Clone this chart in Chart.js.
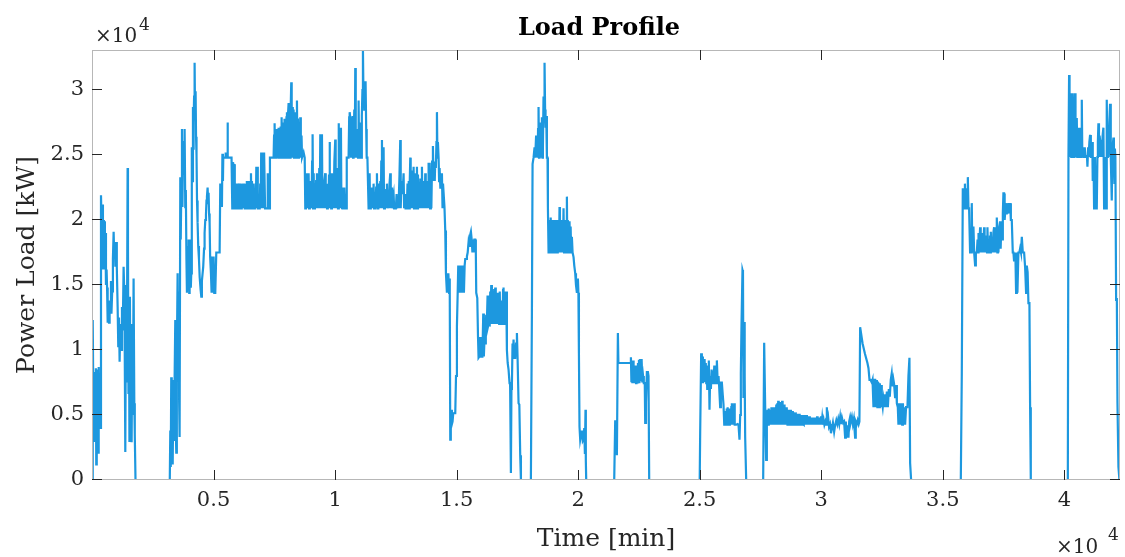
<!DOCTYPE html>
<html>
<head>
<meta charset="utf-8">
<title>Load Profile</title>
<script src="https://cdn.jsdelivr.net/npm/chart.js@4.4.1/dist/chart.umd.min.js"></script>
<style>
  html, body { margin: 0; padding: 0; background: #fff; }
  #wrap { width: 1125px; height: 557px; }
</style>
</head>
<body>
<div id="wrap"><canvas id="loadProfile" width="1125" height="557"></canvas></div>
<script>
// load readings, [time in min, power in kW], split by working period
var startUp = [[0,0],[20,0],[40,12300],[60,5000],[80,8300],[100,3000],[120,7800],[140,4200],[160,8600],[175,1200],[195,7900],[215,3300],[235,8500],[255,2100],[275,8700],[300,5000],[320,8200],[345,4000],[370,21900],[390,20000],[410,16200],[430,21200],[450,17000],[470,20000],[490,16200],[510,19900],[530,17500],[550,19000],[575,15000],[600,16200],[620,14800],[645,12100],[670,13600],[700,12100],[725,13800],[753,13300],[780,15300],[800,12800],[830,14500],[860,17000],[890,19100],[910,17500],[935,18300],[960,16400],[990,18300],[1020,16400],[1055,13300],[1080,10300],[1110,12500],[1136,9100],[1165,12000],[1195,10000],[1233,13300],[1265,11500],[1300,16400],[1335,14000],[1370,2150],[1400,15000],[1430,7500],[1465,24000],[1480,18000],[1500,6700],[1520,12800],[1540,3000],[1560,14100],[1585,4200],[1610,12000],[1630,2900],[1655,10500],[1680,5000],[1711,15500],[1740,5900],[1760,3500],[1790,0]];

var rampOne = [[3200,0],[3221,3800],[3240,1000],[3260,7900],[3280,2500],[3300,7700],[3320,1200],[3344,6500],[3370,3000],[3400,8000],[3426,12300],[3447,4000],[3467,2100],[3490,9500],[3522,15900],[3545,8000],[3565,14500],[3585,6000],[3604,3300],[3632,23300],[3650,18500],[3675,22500],[3701,27000],[3720,21000],[3745,25600],[3769,23500],[3790,26000],[3810,27000],[3837,21000],[3860,22300],[3885,17000],[3906,14400],[3930,18000],[3955,15500],[3975,18500],[4000,14400],[4016,16500],[4043,18500],[4065,14800],[4084,15900],[4100,21000],[4112,25600],[4135,23000],[4153,28700],[4170,25500],[4180,27500],[4200,29500],[4221,32100],[4240,28000],[4262,29900],[4280,26400],[4300,25000],[4320,21500],[4344,19800],[4370,18000],[4400,17000],[4430,15600],[4470,14600],[4496,14100],[4520,15300],[4550,15900],[4575,16400],[4610,17800],[4632,19000],[4660,20000],[4688,20400],[4710,21500],[4729,21800],[4756,22500],[4780,21300],[4797,22100],[4815,20500],[4838,19800],[4860,17200],[4893,15900],[4920,14400],[4950,17200],[4970,14400],[5003,17200],[5030,14400],[5071,14400],[5090,14400],[5113,17500],[5250,17500]];

var dayOne = [[5277,22800],[5300,21000],[5320,22500],[5345,21000],[5365,25100],[5387,23000],[5400,24800],[5480,24800],[5500,25200],[5520,24800],[5545,25200],[5560,24800],[5576,27500],[5590,24800],[5740,24800],[5771,20900],[5800,24450],[5815,24300],[5835,20900],[5850,24300],[5865,23600],[5882,20900],[5920,20900],[5935,22800],[5950,20900],[5990,20900],[6010,22800],[6025,20900],[6045,22800],[6060,20900],[6080,22800],[6100,20900],[6120,22800],[6140,20900],[6160,22800],[6180,20900],[6200,20900],[6220,22800],[6240,20900],[6264,22800],[6285,20900],[6310,20900],[6330,22500],[6350,20900],[6370,23000],[6390,20900],[6410,23000],[6430,20900],[6450,23000],[6470,20900],[6490,22500],[6510,20900],[6540,23600],[6560,20900],[6580,23000],[6600,20900],[6620,22800],[6647,20900],[6700,20900],[6720,22800],[6740,20900],[6760,24100],[6780,20900],[6800,24100],[6820,20900],[6900,20900],[6920,22800],[6940,20900],[6960,25200],[6980,20900],[7000,25200],[7020,22000],[7033,25200],[7050,20900],[7080,25200],[7101,25200],[7120,20900],[7200,20900],[7220,23600],[7240,20900],[7266,23600],[7290,20900],[7320,24800],
  [7334,24800],[7470,24800],[7490,26500],[7512,27450],[7530,24800],[7550,26800],[7570,24800],[7590,27000],[7610,24800],[7630,26300],[7650,24800],[7677,27100],[7695,24800],[7720,26300],[7740,24800],[7760,27200],[7780,24800],[7800,27900],[7820,24800],[7840,26800],[7860,24800],[7880,27500],[7900,24800],[7920,27800],[7940,24800],[7960,27000],[7980,24800],[8000,27900],[8020,28300],[8040,24800],[8060,28000],[8088,29000],[8105,24800],[8130,28800],[8150,24800],[8170,28300],[8197,30600],[8215,25000],[8240,28700],[8260,24800],[8293,28500],[8310,24800],[8340,27700],[8360,24800],[8380,28300],[8400,24800],[8431,29200],[8450,24800],[8470,27800],[8490,24800],[8510,26700],[8530,24800],[8568,27900],[8590,24800],[8620,26500],[8640,24800],[8680,24800],[8705,25200],[8750,24800]];

var dayTwo = [[8774,20900],[8800,23000],[8820,20900],[8850,23600],[8870,20900],[8890,22800],[8911,23600],[8930,20900],[8960,23000],[8980,20900],[9010,22500],[9030,20900],[9055,24500],[9075,26600],[9095,20900],[9120,23600],[9140,20900],[9170,22800],[9190,20900],[9220,23000],[9253,23600],[9270,20900],[9300,22500],[9320,20900],[9350,24000],[9370,20900],[9391,26600],[9410,20900],[9440,24000],[9460,26600],[9480,20900],[9510,22800],[9530,20900],[9560,23000],[9596,23600],[9615,20900],[9650,22500],[9670,20900],[9700,22800],[9720,20900],[9750,23500],[9773,26000],[9790,20900],[9820,22500],[9840,20900],[9870,23600],[9890,20900],[9920,22500],[9940,20900],[9970,24500],[10007,26200],[10025,20900],[10050,24000],[10070,20900],[10100,23600],[10120,20900],[10143,27450],[10160,24000],[10180,20900],[10210,24500],[10241,27100],[10260,21000],[10290,20900],[10320,22500],[10350,20900],[10378,22500],[10410,20900],[10450,20900],[10480,24800],[10520,24800],[10555,24800],[10580,27900],[10600,28300],[10624,27900],
  [10650,24800],[10670,27500],[10693,24800],[10720,28000],[10740,24800],[10761,26000],[10790,28500],[10810,24800],[10830,31700],[10850,24800],[10871,26500],[10890,24800],[10920,27000],[10945,24800],[10967,29200],[10990,24800],[11010,27500],[11036,26000],[11060,24800],[11077,24800],[11100,28000],[11125,30000],[11146,33080],[11165,30000],[11185,30600],[11200,28500],[11225,30600],[11255,30600],[11280,27000],[11300,24800],[11330,24800],[11378,20900],
  [11400,20900],[11420,23600],[11440,20900],[11470,21800],[11490,20900],[11520,22500],[11540,20900],[11565,22000],[11584,22800],[11605,20900],[11640,22000],[11660,20900],[11690,22500],[11722,23600],[11740,20900],[11780,20900],[11810,22800],[11830,20900],[11860,23000],[11880,20900],[11900,24500],[11928,26150],[11950,20900],[11975,24000],[11996,25600],[12015,20900],[12050,21800],[12070,20900],[12100,22300],[12133,22800],[12150,20900],[12180,22000],[12200,20900],[12240,22800],[12270,23600],[12290,20900],[12320,22500],[12340,20900],[12380,21700],[12407,22000],[12430,20900],[12500,20900],[12530,22000],[12550,20900],[12590,21800],[12610,20900],[12650,23500],[12681,26150],[12700,20900],[12730,23000],[12750,22000],[12790,22500],[12818,23600],[12840,20900],[12880,22000],[12900,20900],[12950,20900],[12980,22800],[13000,20900],[13030,23000],[13050,20900],[13070,22800],[13093,24800],[13110,20900],[13135,23800],[13155,20900],[13180,23500],[13200,20900],[13230,24100],[13250,20900],[13275,23600],[13295,20900],[13320,22800],[13345,20900],[13367,24100],[13385,20900],[13410,23500],[13430,20900],[13460,22800],[13480,20900],[13510,23200],[13530,20900],[13550,22800],[13573,24100],[13595,20900],[13620,22800],[13640,20900],[13670,23000],[13690,20900],[13709,23600],[13730,20900],[13760,22500],[13780,20900],[13800,23000],[13825,22000],[13847,24400],[13870,21000],[13890,24400],[13910,20900],[13940,23200],[13960,20900],[13990,24500],[14025,25700],[14050,23000],[14075,24500],[14100,23000],[14120,24500],[14145,24000],[14170,26000],[14190,28300],[14210,24800],[14230,26000],[14258,24800],[14280,23000],[14300,24000],[14330,22500],[14350,23600],[14370,22500],[14395,23600],[14420,20900],[14440,22800],[14464,22800],[14500,21000],[14532,19200]];

var dayThree = [[14560,15900],[14601,14400],[14620,15900],[14640,14400],[14660,15900],[14690,14400],[14710,15500],[14725,14400],[14738,3100],[14760,4000],[14779,5400],[14805,4300],[14833,4500],[14860,5100],[14900,5150],[14944,5150],[14975,8000],[15012,11800],[15045,14500],[15067,16500],[15080,14400],[15100,16300],[15120,14400],[15145,16500],[15165,14400],[15190,16400],[15210,14400],[15235,16500],[15255,14400],[15280,16500],[15300,14400],[15330,16500],[15355,17000],[15390,17000],[15423,17200],[15455,17500],[15491,18300],[15520,18000],[15550,18800],[15588,19100],[15620,18500],[15650,17500],[15680,18500],[15697,17500],[15730,18500],[15766,18500],[15790,17500],[15807,14400],[15850,14000],[15880,11000],[15903,9400],[15940,9500],[15971,11000],[16000,9400],[16030,10800],[16060,9400],[16095,12800],[16120,9500],[16150,11000],[16177,10500],[16200,12000],[16218,12700],[16240,11800],[16273,14200],[16290,11800],[16314,12000],[16340,14000],[16360,11800],[16383,14500],[16400,12500],[16424,15000],[16450,12000],[16470,14500],[16493,14200],[16520,12000],[16545,14700],[16565,12000],[16588,14800],[16610,12000],[16635,14400],[16657,12000],[16680,14300],[16700,12000],[16725,14400],[16750,12000],[16775,14500],[16794,12000],[16820,13800],[16840,12000],[16863,13500],[16890,12000],[16910,14600],[16930,14800],[16950,12000],[16975,14500],[17000,12000],[17020,12000],[17040,14500],[17068,10000],[17100,9000],[17136,8500],[17177,7450],[17200,7450],[17233,540],[17255,7000],[17275,7450],[17300,10500],[17316,9400],[17342,10800],[17370,9400],[17411,9400],[17445,10500],[17480,11300],[17507,9400],[17548,5900],[17580,5800],[17616,1900],[17645,0]];

var dayFour = [[18055,0],[18097,12900],[18124,24300],[18165,24800],[18205,25600],[18233,24800],[18270,26500],[18302,25600],[18330,24800],[18350,27000],[18370,28700],[18390,24800],[18411,25600],[18439,27500],[18460,24800],[18480,25000],[18508,27900],[18530,24800],[18549,25500],[18575,29500],[18600,28000],[18617,32100],[18640,28500],[18658,27100],[18686,28000],[18713,24800],[18740,24800],[18755,21000],[18782,17500],[18800,20000],[18815,17500],[18830,19800],[18850,17500],[18870,20200],[18890,17500],[18910,19500],[18930,17500],[18950,20000],[18970,17500],[18990,19800],[19010,17500],[19030,20000],[19050,17500],[19070,19600],[19090,17500],[19110,20000],[19130,17500],[19150,19800],[19170,17500],[19190,20000],[19210,17500],[19233,21000],[19250,17500],[19270,20000],[19290,17500],[19310,19800],[19330,17500],[19350,20000],[19370,17500],[19398,20900],[19420,17500],[19440,19800],[19460,17500],[19480,20000],[19500,17500],[19536,21800],[19555,17500],[19575,20000],[19595,17500],[19620,19500],[19645,19900],[19665,17500],[19690,19500],[19710,17500],[19741,18700],[19770,17500],[19810,17150],[19840,16500],[19879,15900],[19910,15000],[19948,14400],[19989,15500],[20010,14400],[20031,9750],[20055,4100],[20084,3100],[20120,3500],[20153,3800],[20190,3000],[20220,3100],[20250,4000],[20277,2000],[20302,5400],[20315,1500],[20331,0]];

var lowWeekOne = [[21483,0],[21524,4600],[21560,4000],[21593,1900],[21634,11300],[21655,9000],[21700,9000],[22000,9000],[22141,9000],[22170,9450],[22190,7600],[22210,8800],[22230,7450],[22260,9200],[22280,7450],[22300,8800],[22330,7450],[22350,8500],[22380,7450],[22400,8800],[22430,7500],[22460,9000],[22480,7600],[22500,9250],[22520,7450],[22550,9300],[22580,7600],[22610,9300],[22640,7500],[22670,8000],[22700,7450],[22740,7450],[22758,4400],[22790,6000],[22826,8300],[22870,8300],[22894,8000],[22922,0],
  [25000,0],[25019,3600],[25060,9750],[25088,8800],[25110,9500],[25130,7450],[25156,8800],[25180,7600],[25200,9300],[25225,8000],[25250,9000],[25270,7450],[25290,8800],[25310,7000],[25330,8500],[25350,7450],[25375,9200],[25403,5400],[25431,8000],[25460,7000],[25490,8500],[25520,7450],[25545,8400],[25568,7450],[25600,8800],[25630,7450],[25660,8800],[25690,7450],[25705,9200],[25740,7450],[25774,8000],[25800,7200],[25842,5600],[25870,7500],[25911,7500],[25950,6500],[25979,5800],[26010,4250],[26048,4250],[26070,5300],[26090,4250],[26110,5500],[26130,4250],[26150,5600],[26170,4250],[26190,5200],[26210,4250],[26240,5500],[26270,4250],[26300,5600],[26323,5900],[26350,4250],[26380,5400],[26400,4500],[26418,5900],[26440,4250],[26500,4250],[26560,4300],[26596,4250],[26637,3100],[26665,5000],[26692,8200],[26720,12000],[26760,16150],[26780,16000],[26800,6300],[26829,12150],[26850,8000],[26870,3300],[26912,0]];

var lowWeekTwo = [[27611,0],[27652,10550],[27690,6000],[27734,1550],[27762,4250],[27790,5400],[27810,4250],[27830,5500],[27850,4250],[27870,5400],[27890,4250],[27910,5300],[27930,4250],[27950,5600],[27970,4250],[27990,5500],[28010,4250],[28030,5600],[28050,4300],[28070,5400],[28090,4250],[28110,5600],[28130,4250],[28150,5800],[28170,4250],[28190,5900],[28210,4300],[28230,6100],[28250,4250],[28270,5700],[28290,4250],[28310,6000],[28330,4250],[28350,5600],[28370,4250],[28390,6100],[28410,4300],[28430,5500],[28450,4250],[28470,5800],[28490,4250],[28510,5500],[28530,4250],[28550,5400],[28570,4250],[28590,5600],[28610,4250],[28630,5300],[28650,4250],[28670,5400],[28690,4250],[28710,5300],[28730,4250],[28750,5400],[28770,4250],[28790,5200],[28810,4250],[28830,5300],[28850,4250],[28870,5200],[28890,4250],[28910,5100],[28930,4250],[28950,5200],[28970,4250],[28990,5000],[29010,4250],[29030,5100],[29050,4250],[29070,5000],[29090,4250],[29110,5100],[29130,4250],[29150,5000],[29170,4250],[29190,5000],[29210,4250],[29230,5000],[29250,4300],[29270,4900],[29290,4250],[29310,5000],[29330,4250],[29350,4900],[29370,4250],[29390,5000],[29410,4300],[29430,4900],[29450,4250],[29470,4800],[29490,4250],[29510,4900],[29530,4250],[29550,4700],[29570,4250],[29590,4800],[29610,4250],[29630,4700],[29650,4250],[29670,4800],[29690,4250],[29710,4700],[29730,4250],[29750,4800],[29770,4250],[29790,4700],[29810,4250],[29830,4900],[29850,4250],[29870,4800],[29890,4250],[29910,4700],[29930,4250],[29950,4800],[29970,4250],[29990,4900],[30010,4250],[30040,4800],[30070,4250],[30100,4600],[30130,4250],[30170,4500],[30200,4250],[30230,5600],[30260,4300],[30290,4700],[30320,4100],[30360,4300],[30400,3600],[30440,4000],[30480,4400],[30530,3700],[30570,4200],[30620,4600],[30660,4300],[30700,4700],[30740,4300],[30778,4850],[30810,4300],[30850,4800],[30900,4400],[30940,4500],[30983,3250],[31010,4500],[31050,3250],[31080,4200],[31120,3250],[31150,4500],[31189,4850],[31220,4500],[31260,4850],[31300,4300],[31340,4700],[31394,3250],[31420,4500],[31460,4300],[31500,4600],[31540,4300],[31570,4500],[31600,11750],[31700,10500],[31800,9700],[31900,9000],[31943,8600],[31985,7700],[32030,7700],[32080,7500],[32110,7700],[32148,5600],[32180,7700],[32217,7700],
  [32240,5600],[32260,7600],[32290,7700],[32310,5600],[32330,7500],[32352,7450],[32380,5600],[32410,7450],[32440,5600],[32470,7300],[32490,6150],[32530,5600],[32560,6200],[32600,5600],[32630,6600],[32660,5600],[32700,6800],[32740,5600],[32780,7000],[32820,6400],[32860,7700],[32900,8200],[32940,7200],[32970,7700],[32996,7400],[33040,6300],[33080,7300],[33110,5900],[33150,5600],[33175,4250],[33200,5900],[33220,4250],[33245,5900],[33270,4250],[33300,5900],[33330,4250],[33360,5900],[33390,4250],[33420,5600],[33450,4250],[33490,5600],[33546,5600],[33587,8000],[33628,9400],[33656,1300],[33697,0]];

var restartOne = [[35741,0],[35782,8200],[35823,22450],[35845,20900],[35870,22450],[35890,20900],[35910,22800],[35930,21000],[35950,22450],[35970,20900],[35990,22450],[36010,21000],[36030,23300],[36055,20900],[36082,20900],[36123,17500],[36150,19000],[36172,17500],[36192,21300],[36215,17500],[36240,17500],[36261,19500],[36290,17500],[36330,16500],[36360,17500],[36400,17500],[36430,18500],[36450,17500],[36470,19000],[36490,17500],[36536,19450],[36560,17500],[36590,18500],[36610,17500],[36640,19000],[36660,17500],[36700,19450],[36720,17500],[36750,18800],[36770,17500],[36800,18500],[36820,17500],[36837,19450],[36860,17500],[36890,18500],[36910,17500],[36940,18800],[36960,17500],[36976,19100],[37000,17500],[37030,18500],[37050,17500],[37080,19000],[37111,19450],[37135,17500],[37160,19000],[37180,17500],[37200,19000],[37222,20200],[37245,17500],[37270,18800],[37290,17500],[37320,19500],[37357,19900],[37380,17800],[37410,19800],[37440,18500],[37470,20500],[37494,22050],[37522,22050],[37545,20000],[37563,20500],[37590,21300],[37610,20500],[37631,21300],[37660,20500],[37700,21300],[37730,20500],[37769,21300],[37800,20000],[37838,20000],[37879,17500],[37906,17500],[37930,16900],[37960,17500],[37990,17000],[38016,14400],[38045,17500],[38070,14400],[38111,17500],[38150,17500],[38180,17800],[38215,17500],[38251,18700],[38292,17500],[38345,17500],[38386,16400],[38427,14400],[38455,16500],[38490,16000],[38523,13600],[38564,13600],[38592,5600],[38620,0]];

var restartTwo = [[40102,0],[40144,0],[40170,24850],[40196,31150],[40215,24850],[40237,28000],[40264,29750],[40285,24850],[40305,29000],[40325,24850],[40347,29750],[40370,24850],[40385,28500],[40401,24850],[40420,27500],[40443,29750],[40460,24850],[40484,26500],[40512,27850],[40530,24850],[40555,26500],[40580,26000],[40608,27100],[40630,24850],[40648,24850],[40680,27000],[40700,24850],[40718,29250],[40740,24850],[40759,24850],[40786,25600],[40810,24850],[40840,25600],[40870,24850],[40900,24850],[40930,25000],[40950,24100],[40980,25600],[41000,24850],[41030,26000],[41060,26550],[41090,24850],[41128,24850],[41150,26000],[41169,23000],[41200,24850],[41224,20900],[41260,24850],[41290,20900],[41334,20900],[41361,24850],[41380,26000],[41402,27450],[41425,24850],[41450,26500],[41471,26150],[41500,24850],[41520,26000],[41540,24850],[41575,26500],[41608,27100],[41636,20900],[41660,24850],[41690,20900],[41718,20900],[41745,29250],[41770,24850],[41790,27000],[41814,24850],[41850,27500],[41882,28950],[41910,24850],[41951,21500],[41980,25500],[42020,26350],[42040,24850],[42060,22850],[42080,25500],[42100,24850],[42130,13850],[42160,14000],[42185,6000],[42226,1000],[42267,0]];

var xTicks = [5000, 10000, 15000, 20000, 25000, 30000, 35000, 40000];
var yTicks = [0, 5000, 10000, 15000, 20000, 25000, 30000];
var timeRange = [0, 42290];
var loadRange = [0, 33080];

var loadPoints = [].concat(startUp, rampOne, dayOne, dayTwo, dayThree, dayFour,
  lowWeekOne, lowWeekTwo, restartOne, restartTwo);

var serif = "'DejaVu Serif', 'Liberation Serif', serif";
var ink = '#262626';
Chart.defaults.font.family = serif;
Chart.defaults.color = ink;

// matlab look: grey box, ticks pointing inward on all four sides, x10^4 exponents
var matlabFrame = {
  id: 'matlabFrame',
  afterDatasetsDraw: function(chart) {
    var ctx = chart.ctx, a = chart.chartArea;
    var x = chart.scales.x, y = chart.scales.y;
    ctx.save();
    ctx.strokeStyle = '#b7b7b7';
    ctx.lineWidth = 1;
    ctx.strokeRect(a.left + 0.5, a.top + 0.5, a.right - a.left - 1, a.bottom - a.top - 1);
    ctx.strokeStyle = ink;
    ctx.beginPath();
    xTicks.forEach(function(v) {
      var px = Math.round(x.getPixelForValue(v)) + 0.5;
      ctx.moveTo(px, a.bottom); ctx.lineTo(px, a.bottom - 10);
      ctx.moveTo(px, a.top); ctx.lineTo(px, a.top + 10);
    });
    yTicks.forEach(function(v) {
      var py = Math.round(y.getPixelForValue(v)) - 0.5;
      ctx.moveTo(a.left, py); ctx.lineTo(a.left + 10, py);
      ctx.moveTo(a.right, py); ctx.lineTo(a.right - 10, py);
    });
    ctx.stroke();
    ctx.restore();
  },
  afterDraw: function(chart) {
    var ctx = chart.ctx, a = chart.chartArea;
    ctx.save();
    ctx.fillStyle = '#000';
    ctx.textAlign = 'center';
    ctx.textBaseline = 'alphabetic';
    ctx.font = 'bold 24px ' + serif;
    ctx.fillText('Load Profile', (a.left + a.right) / 2 - 7, 35);

    ctx.fillStyle = ink;
    ctx.textAlign = 'left';
    ctx.font = '20px ' + serif;
    ctx.fillText('\u00d710', a.left + 3, 42);
    ctx.fillText('\u00d710', a.right - 64, 553);
    ctx.font = '17px ' + serif;
    ctx.fillText('4', a.left + 47, 30);
    ctx.fillText('4', a.right - 12, 540);
    ctx.restore();
  }
};

new Chart('loadProfile', {
  type: 'line',
  data: {
    datasets: [{
      label: 'Power Load',
      data: loadPoints.map(function(p) { return {x: p[0], y: p[1]}; }),
      borderColor: '#1d98df',
      borderWidth: 2.2,
      pointRadius: 0,
      tension: 0,
      fill: false
    }]
  },
  options: {
    responsive: false,
    animation: false,
    events: [],
    layout: { padding: { left: 0, right: 5, top: 50, bottom: 0 } },
    plugins: { legend: { display: false }, tooltip: { enabled: false }, title: { display: false } },
    scales: {
      x: {
        type: 'linear',
        min: timeRange[0],
        max: timeRange[1],
        afterBuildTicks: function(s) { s.ticks = xTicks.map(function(v) { return {value: v}; }); },
        afterFit: function(s) { s.height = 77; },
        grid: { display: false, drawTicks: false },
        border: { display: false },
        ticks: {
          autoSkip: false, maxRotation: 0, padding: 8,
          font: { size: 21 },
          callback: function(v) { return String(v / 10000); }
        },
        title: { display: true, text: 'Time [min]', font: { size: 25 }, padding: { top: 0, bottom: 3 } }
      },
      y: {
        type: 'linear',
        min: loadRange[0],
        max: loadRange[1],
        afterBuildTicks: function(s) { s.ticks = yTicks.map(function(v) { return {value: v}; }); },
        afterFit: function(s) { s.width = 92; },
        grid: { display: false, drawTicks: false },
        border: { display: false },
        ticks: {
          autoSkip: false, padding: 8,
          font: { size: 21 },
          callback: function(v) { return String(v / 10000); }
        },
        title: { display: true, text: 'Power Load [kW]', font: { size: 25 }, padding: { top: 12, bottom: 0 } }
      }
    }
  },
  plugins: [matlabFrame]
});
</script>
</body>
</html>
